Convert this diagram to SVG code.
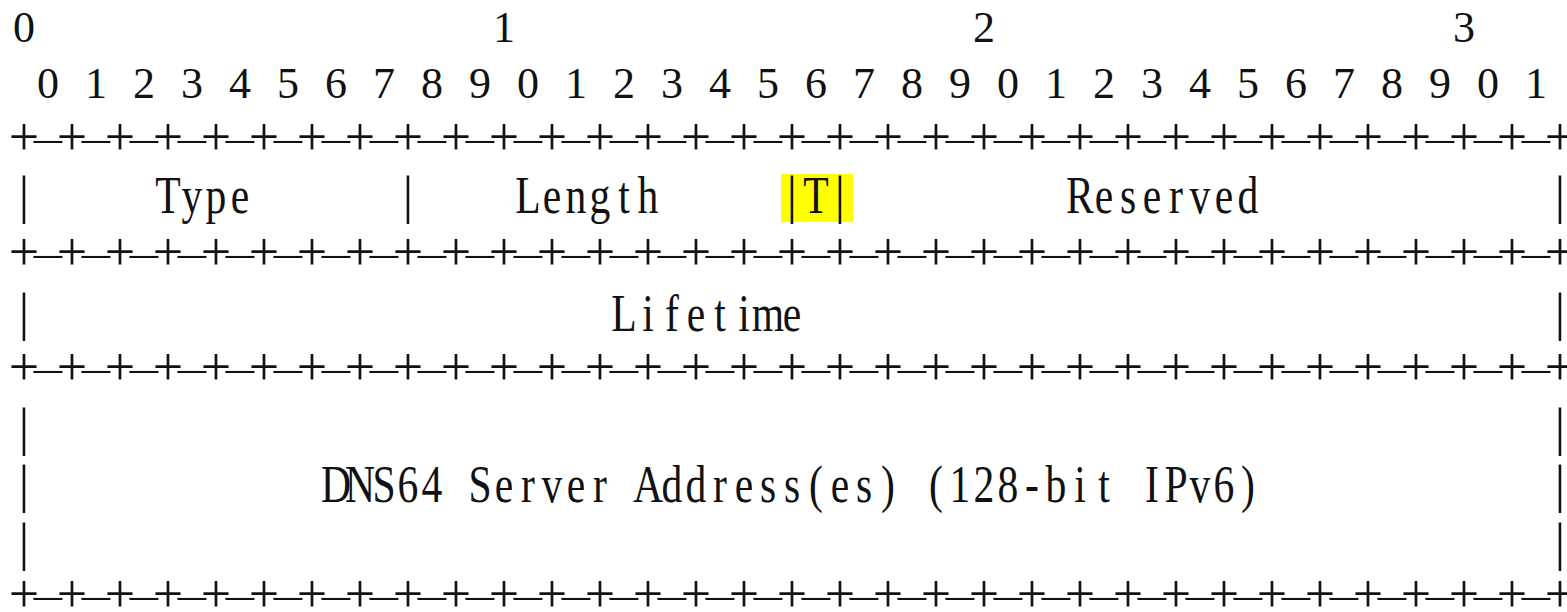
<svg xmlns="http://www.w3.org/2000/svg" xmlns:xlink="http://www.w3.org/1999/xlink" width="1567" height="612" viewBox="0 0 1567 612">
  <style>
    text { font-family: "Liberation Serif", "Times New Roman", serif; fill: #111; text-anchor: middle; }
    .num  { font-size: 44px; }
    .word { font-size: 52px; }
    .bar  { font-size: 52px; }
    .plus { font-size: 54px; }
    .dash { font-size: 28px; }
    .hl   { fill: #ffff00; }
  </style>
  <defs>
    <!-- one "+-+-...-+" border line, 65 character cells of 24px, centred on y=0 -->
    <g id="sep">
      <text class="plus" x="24 72 120 168 216 264 312 360 408 456 504 552 600 648 696 744 792 840 888 936 984 1032 1080 1128 1176 1224 1272 1320 1368 1416 1464 1512 1560" y="13">+++++++++++++++++++++++++++++++++</text>
      <g transform="scale(4,1)">
        <text class="dash" x="12 24 36 48 60 72 84 96 108 120 132 144 156 168 180 192 204 216 228 240 252 264 276 288 300 312 324 336 348 360 372 384" y="6.3">--------------------------------</text>
      </g>
    </g>
  </defs>

  <rect width="1567" height="612" fill="#fff"/>

  <!-- bit ruler -->
  <g id="ruler">
    <text class="num" x="24 504 984 1464" y="42">0123</text>
    <text class="num" x="48 96 144 192 240 288 336 384 432 480 528 576 624 672 720 768 816 864 912 960 1008 1056 1104 1152 1200 1248 1296 1344 1392 1440 1488 1536" y="98">01234567890123456789012345678901</text>
  </g>

  <!-- border lines -->
  <g id="borders">
    <use xlink:href="#sep" y="142"/>
    <use xlink:href="#sep" y="257"/>
    <use xlink:href="#sep" y="372"/>
    <use xlink:href="#sep" y="599"/>
  </g>

  <!-- word 1: Type / Length / T / Reserved (text cells 30px wide at 0.8 x-scale) -->
  <g id="row-type">
    <rect class="hl" x="781" y="174" width="72" height="48"/>
    <text class="bar" x="24 408 792 840 1560" y="213">|||||</text>
    <g transform="scale(0.8,1)">
      <text class="word" x="210 240 270 300" y="213">Type</text>
      <text class="word" x="660 690 720 750 780 810" y="213">Length</text>
      <text class="word" x="1020" y="213">T</text>
      <text class="word" x="1350 1380 1410 1440 1470 1500 1530 1560" y="213">Reserved</text>
    </g>
  </g>

  <!-- word 2: Lifetime -->
  <g id="row-lifetime">
    <text class="bar" x="24 1560" y="330">||</text>
    <g transform="scale(0.8,1)">
      <text class="word" x="780 810 840 870 900 930 960 990" y="331">Lifetime</text>
    </g>
  </g>

  <!-- words 3..6: DNS64 server address -->
  <g id="row-address">
    <text class="bar" x="24 1560" y="445">||</text>
    <text class="bar" x="24 1560" y="502">||</text>
    <text class="bar" x="24 1560" y="560">||</text>
    <g transform="scale(0.8,1)">
      <text class="word" x="420 450 480 510 540 570 600 630 660 690 720 750 780 810 840 870 900 930 960 990 1020 1050 1080 1110 1140 1170 1200 1230 1260 1290 1320 1350 1380 1410 1440 1470 1500 1530 1560" y="502">DNS64 Server Address(es) (128-bit IPv6)</text>
    </g>
  </g>
</svg>
